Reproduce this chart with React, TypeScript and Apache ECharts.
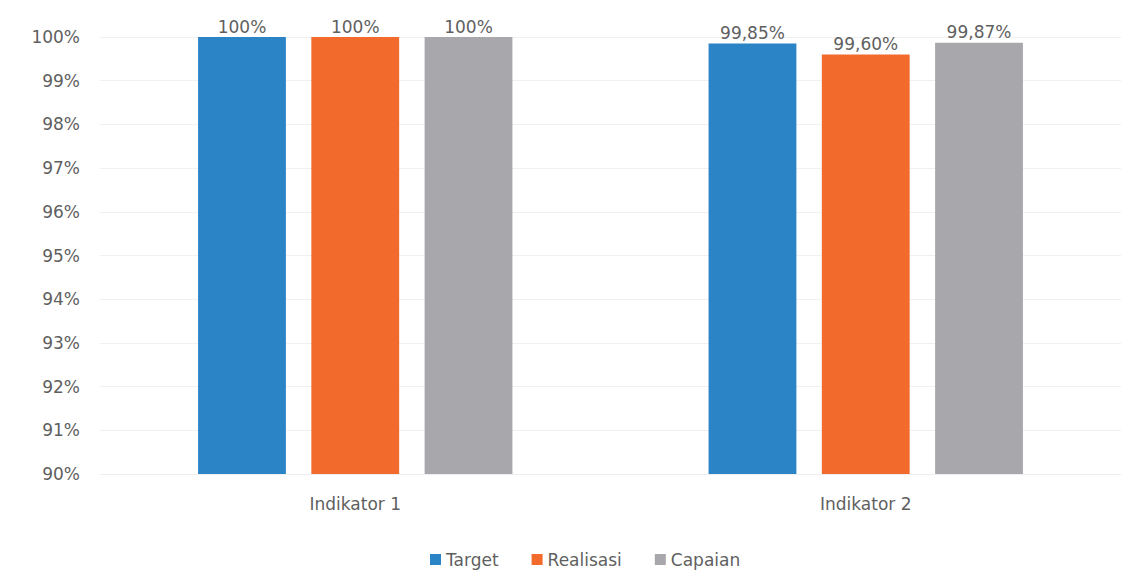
import React, { useEffect, useRef } from "react";
import * as echarts from "echarts";

const categories = ["Indikator 1", "Indikator 2"];
const targetValues = [100, 99.85];
const realisasiValues = [100, 99.6];
const capaianValues = [100, 99.87];
const seriesNames = ["Target", "Realisasi", "Capaian"];
const seriesColors = ["#2b84c6", "#f26a2c", "#a8a7ab"];
const yTickMin = 90;
const yTickMax = 100;
const yTickStep = 1;

const FONT = "'DejaVu Sans', sans-serif";
const TEXT = "#5f5f5f";
const FS = 17;

function fmt(v: number): string {
  if (Number.isInteger(v)) return `${v}%`;
  return `${v.toFixed(2).replace(".", ",")}%`;
}

export default function App() {
  const ref = useRef<HTMLDivElement>(null);
  useEffect(() => {
    if (!ref.current) return;
    const chart = echarts.init(ref.current, undefined, { renderer: "svg" });
    const values = [targetValues, realisasiValues, capaianValues];
    chart.setOption({
      animation: false,
      backgroundColor: "#ffffff",
      textStyle: { fontFamily: FONT },
      grid: { left: 100, right: 21, top: 37, bottom: 113 },
      legend: {
        data: seriesNames,
        left: 425,
        top: 546,
        itemWidth: 11,
        itemHeight: 11,
        itemGap: 33,
        icon: "rect",
        textStyle: { color: TEXT, fontSize: FS, fontFamily: FONT },
      },
      xAxis: {
        type: "category",
        data: categories,
        axisTick: { show: false },
        axisLine: { show: true, lineStyle: { color: "#eeeeee" } },
        axisLabel: { color: TEXT, fontSize: FS, margin: 21, fontFamily: FONT },
      },
      yAxis: {
        type: "value",
        min: yTickMin,
        max: yTickMax,
        interval: yTickStep,
        axisLine: { show: false },
        axisTick: { show: false },
        splitLine: { lineStyle: { color: "#f0f0f0" } },
        axisLabel: {
          color: TEXT,
          fontSize: FS,
          margin: 20,
          fontFamily: FONT,
          formatter: (v: number) => `${v}%`,
        },
      },
      series: seriesNames.map((name, i) => ({
        name,
        type: "bar",
        data: values[i],
        barWidth: "17.2%",
        barGap: "29%",
        itemStyle: { color: seriesColors[i] },
        label: {
          show: true,
          position: "top",
          distance: 2,
          color: TEXT,
          fontSize: FS,
          fontFamily: FONT,
          formatter: (p: any) => fmt(p.value),
        },
      })),
    });
    return () => chart.dispose();
  }, []);
  return (
    <div
      ref={ref}
      style={{ position: "fixed", left: 0, top: 0, width: 1142, height: 587, background: "#fff" }}
    />
  );
}
